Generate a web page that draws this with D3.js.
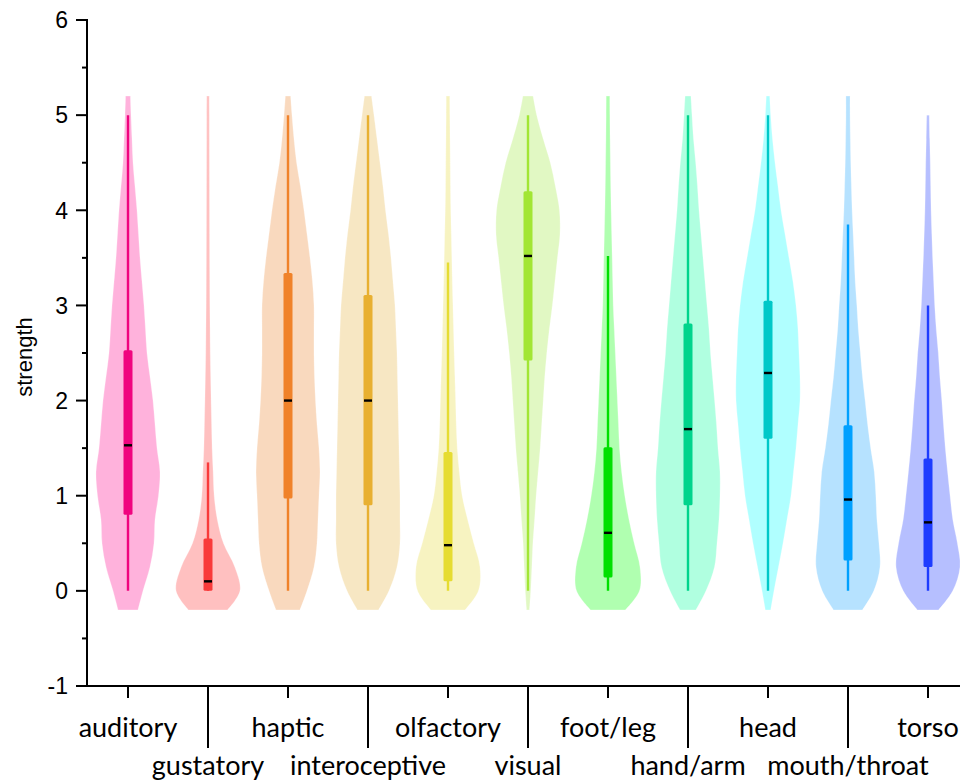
<!DOCTYPE html>
<html>
<head>
<meta charset="utf-8">
<script src="https://cdn.jsdelivr.net/npm/d3@7"></script>
<style>
  html, body { margin: 0; padding: 0; background: #fff; }
  svg { display: block; }
</style>
</head>
<body>
<svg id="chart" width="960" height="781"></svg>
<script>
// ---- data ----
const categories = ["auditory","gustatory","haptic","interoceptive","olfactory","visual","foot/leg","hand/arm","head","mouth/throat","torso"];
const yTicks = [-1, 0, 1, 2, 3, 4, 5, 6];
const fillColors = ["#ffb2dc","#ffc0c0","#f9d9be","#f7e7c3","#f7f3c1","#e1f8c3","#b0ffb0","#b0ffe0","#b0ffff","#b6e2ff","#b6bfff"];
const boxColors  = ["#f0047f","#f93a3a","#f0822a","#e8b031","#e6dc32","#a2e634","#00e000","#00d48c","#00c8c8","#00a0ff","#1e3cff"];

// box statistics
const whiskerLow  = [0, 0, 0, 0, 0, 0, 0, 0, 0, 0, 0];
const q1          = [0.80, 0.00, 0.97, 0.90, 0.10, 2.42, 0.14, 0.90, 1.60, 0.32, 0.25];
const medians     = [1.53, 0.10, 2.00, 2.00, 0.48, 3.52, 0.61, 1.70, 2.29, 0.96, 0.72];
const q3          = [2.53, 0.55, 3.34, 3.11, 1.46, 4.20, 1.51, 2.81, 3.05, 1.74, 1.39];
const whiskerHigh = [5.00, 1.35, 5.00, 5.00, 3.45, 5.00, 3.52, 5.00, 5.00, 3.85, 3.00];

// kernel density (relative) at these strength levels
const densityLevels = [-0.2, 0, 0.25, 0.5, 0.75, 1, 1.25, 1.5, 1.75, 2, 2.25, 2.5, 2.75, 3, 3.25, 3.5, 3.75, 4, 4.25, 4.5, 4.75, 5, 5.2];
const densAuditory      = [10, 15, 22, 26, 27, 30.5, 32, 29, 27, 25, 22, 19, 17.5, 16, 14, 12, 10.5, 9, 7, 5, 4, 3, 2.4];
const densGustatory     = [19, 31, 26, 15, 9, 6, 5, 4, 3.5, 3, 2.6, 2.2, 2, 1.8, 1.7, 1.6, 1.55, 1.5, 1.45, 1.4, 1.35, 1.3, 1.2];
const densHaptic        = [12, 19, 26, 29, 30, 31, 32, 31, 29, 27.5, 26.5, 26, 26, 26, 24.5, 22, 19, 16, 12.5, 8.6, 6, 4, 2.6];
const densInteroceptive = [10.6, 21, 29, 32, 32, 32, 31.5, 31, 30.5, 30, 29.5, 29, 28, 27, 25, 23, 20.5, 17.5, 15, 12, 9, 6, 3.5];
const densOlfactory     = [16.6, 29.5, 31, 25, 19, 13.7, 11, 9, 8, 7.4, 6.7, 6, 5.4, 4.8, 4.2, 3.7, 3.2, 2.7, 2.4, 2.2, 2, 1.8, 1.7];
const densVisual        = [1.4, 2.7, 3.8, 4.8, 6.5, 8, 10, 12, 13.5, 15, 16.5, 18.5, 21, 24, 26.5, 29, 31.5, 31, 27, 22, 15, 8.6, 5];
const densFootLeg       = [16.6, 30, 30.5, 25, 20, 16, 13, 11, 10, 9, 8, 7, 6, 5, 4.5, 4, 3.5, 3, 2.6, 2.3, 2, 1.8, 1.7];
const densHandArm       = [8, 18, 26.5, 29, 31, 32, 32, 30, 28.5, 26.6, 24.5, 22.5, 21, 19, 17, 15, 13, 11, 9.5, 7.7, 5.5, 4, 2.9];
const densHead          = [2.7, 6, 10.5, 15, 19, 23, 25.5, 28, 30, 32, 32, 31, 30, 28, 25, 21, 17, 13, 10, 7, 4.5, 2.7, 1.7];
const densMouthThroat   = [14, 25, 31, 30, 28, 27, 25.5, 22, 19, 16.6, 14, 12, 10, 8.6, 7, 6, 5, 4, 3.3, 2.7, 2.3, 2, 2];
const densTorso         = [10.3, 24, 31, 28.5, 24, 21.4, 19, 16.8, 15, 13.4, 11.5, 10, 8, 6.5, 5.5, 4.5, 3.7, 3, 2.6, 2.2, 1.7, 1.2, null];
const densities = [densAuditory, densGustatory, densHaptic, densInteroceptive, densOlfactory, densVisual,
                   densFootLeg, densHandArm, densHead, densMouthThroat, densTorso];

// ---- layout ----
const svg = d3.select("#chart");
const x = d3.scaleLinear().domain([0.5, 11.5]).range([88, 968]);
const y = d3.scaleLinear().domain([-1, 6]).range([686, 20]);
const halfWidthUnits = 0.4;   // max violin half width in category units
const boxWidth = 9, medWidth = 8;

const g = svg.append("g");

categories.forEach((cat, i) => {
  const cx = x(i + 1);
  const dens = densities[i];
  const pts = densityLevels.map((lv, k) => ({ lv, d: dens[k] })).filter(p => p.d != null);
  const w = d3.scaleLinear().domain([0, d3.max(pts, p => p.d)])
              .range([0, x(1 + halfWidthUnits) - x(1)]);
  const area = d3.area()
    .y(p => y(p.lv))
    .x0(p => cx - w(p.d))
    .x1(p => cx + w(p.d))
    .curve(d3.curveCatmullRom.alpha(0.5));
  g.append("path")
    .attr("d", area(pts))
    .attr("fill", fillColors[i])
    .attr("stroke", "#ffffff")
    .attr("stroke-opacity", 0.35)
    .attr("stroke-width", 0.8);

  // whisker
  g.append("line")
    .attr("x1", cx).attr("x2", cx)
    .attr("y1", y(whiskerLow[i])).attr("y2", y(whiskerHigh[i]))
    .attr("stroke", boxColors[i]).attr("stroke-width", 2.4);
  // box
  g.append("rect")
    .attr("x", cx - boxWidth / 2)
    .attr("y", y(q3[i]))
    .attr("width", boxWidth)
    .attr("height", y(q1[i]) - y(q3[i]))
    .attr("rx", 1.5)
    .attr("fill", boxColors[i]);
  // median
  g.append("rect")
    .attr("x", cx - medWidth / 2)
    .attr("y", y(medians[i]) - 1.2)
    .attr("width", medWidth)
    .attr("height", 2.4)
    .attr("fill", "#000");
});

// ---- y axis ----
const yAxis = svg.append("g");
yAxis.append("line")
  .attr("x1", 87).attr("x2", 87)
  .attr("y1", y(6) - 1).attr("y2", y(-1) + 1)
  .attr("stroke", "#000").attr("stroke-width", 2);
const minorTicks = d3.range(-1, 6, 1).map(v => v + 0.5);
yAxis.selectAll(".maj").data(yTicks).enter().append("line")
  .attr("x1", 76).attr("x2", 87)
  .attr("y1", d => y(d)).attr("y2", d => y(d))
  .attr("stroke", "#000").attr("stroke-width", 2);
yAxis.selectAll(".min").data(minorTicks).enter().append("line")
  .attr("x1", 82).attr("x2", 87)
  .attr("y1", d => y(d)).attr("y2", d => y(d))
  .attr("stroke", "#000").attr("stroke-width", 2);
yAxis.selectAll(".lab").data(yTicks).enter().append("text")
  .attr("x", 68).attr("y", d => y(d))
  .attr("dy", "0.36em")
  .attr("text-anchor", "end")
  .attr("font-family", "Liberation Sans, Arial, sans-serif")
  .attr("font-size", 23)
  .attr("fill", "#000")
  .text(d => d);

svg.append("text")
  .attr("transform", "translate(32,357) rotate(-90)")
  .attr("text-anchor", "middle")
  .attr("font-family", "Liberation Sans, Arial, sans-serif")
  .attr("font-size", 22)
  .attr("fill", "#000")
  .text("strength");

// ---- x axis ----
const xAxis = svg.append("g");
xAxis.append("line")
  .attr("x1", 86).attr("x2", 960)
  .attr("y1", y(-1)).attr("y2", y(-1))
  .attr("stroke", "#000").attr("stroke-width", 2);
categories.forEach((cat, i) => {
  const cx = x(i + 1);
  const odd = i % 2 === 0;
  xAxis.append("line")
    .attr("x1", cx).attr("x2", cx)
    .attr("y1", y(-1)).attr("y2", odd ? y(-1) + 12 : y(-1) + 62)
    .attr("stroke", "#000").attr("stroke-width", 2);
  xAxis.append("text")
    .attr("x", cx)
    .attr("y", odd ? 737 : 775)
    .attr("text-anchor", "middle")
    .attr("font-family", "Lato, 'Open Sans', sans-serif")
    .attr("font-size", 27)
    .attr("fill", "#000")
    .text(cat);
});
</script>
</body>
</html>
